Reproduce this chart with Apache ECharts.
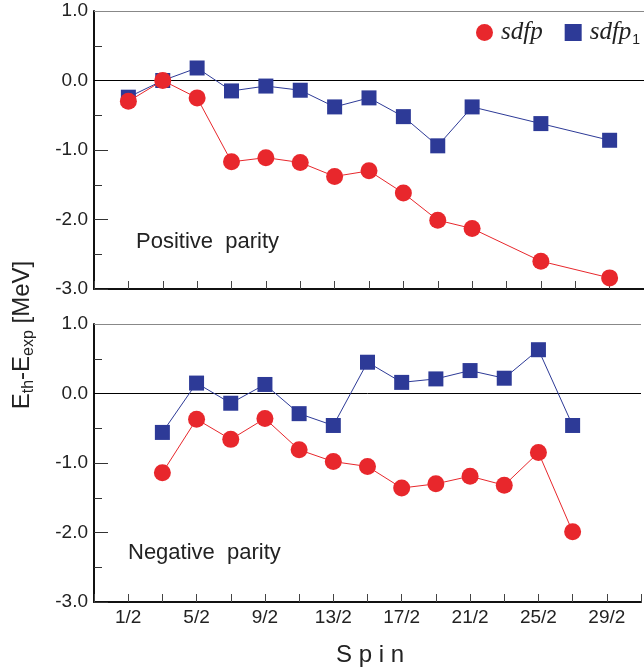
<!DOCTYPE html>
<html>
<head>
<meta charset="utf-8">
<title>Eth - Eexp vs spin</title>
<script src="https://cdn.jsdelivr.net/npm/echarts@6/dist/echarts.min.js"></script>
<style>
    html, body { margin: 0; padding: 0; background: #fff; }
    #chart { width: 644px; height: 670px; }
</style>
</head>
<body>
<div id="chart"></div>
<script>
// spin given as 2J (1 -> 1/2, 3 -> 3/2 ...)
let spins = [1, 3, 5, 7, 9, 11, 13, 15, 17, 19, 21, 23, 25, 27, 29]

// positive parity
let posSdfp = [-0.30, 0.00, -0.25, -1.17, -1.11, -1.18, -1.38, -1.30, -1.62, -2.01, -2.13, null, -2.60, null, -2.84]
let posSdfp1 = [-0.24, 0.00, 0.18, -0.15, -0.08, -0.14, -0.38, -0.25, -0.52, -0.94, -0.38, null, -0.62, null, -0.86]

// negative parity
let negSdfp = [null, -1.14, -0.37, -0.66, -0.36, -0.81, -0.98, -1.05, -1.36, -1.30, -1.19, -1.32, -0.85, -1.99, null]
let negSdfp1 = [null, -0.56, 0.15, -0.14, 0.13, -0.29, -0.46, 0.45, 0.16, 0.21, 0.33, 0.22, 0.63, -0.46, null]

let yTicks = [-3, -2, -1, 0, 1]

const RED = '#e8272c'
const BLUE = '#2d3a97'
const FONT = 'Liberation Sans'

function toPoints(values) {
    let points = []
    values.forEach((v, i) => {
        if (v !== null) {
            points.push([spins[i], v])
        }
    })
    return points
}

function spinLabel(v) {
    if (v >= 1 && v <= 29 && (v - 1) % 4 === 0) {
        return v + '/2'
    }
    return ''
}

function makeXAxis(index, showLabel) {
    return {
        type: 'value',
        gridIndex: index,
        min: -1,
        max: 31,
        interval: 2,
        axisLine: { onZero: false, lineStyle: { color: '#111', width: 2 } },
        axisTick: { inside: true, length: 8, lineStyle: { color: '#444', width: 1 } },
        axisLabel: {
            show: showLabel,
            formatter: spinLabel,
            fontFamily: FONT,
            fontSize: 19,
            color: '#222',
            margin: 6
        },
        splitLine: { show: false }
    }
}

function makeYAxis(index) {
    return {
        type: 'value',
        gridIndex: index,
        min: yTicks[0],
        max: yTicks[yTicks.length - 1],
        interval: 1,
        axisLine: { onZero: false, lineStyle: { color: '#111', width: 2 } },
        axisTick: { inside: true, length: 14, lineStyle: { color: '#333', width: 1 } },
        minorTick: { show: true, splitNumber: 2, length: 8, lineStyle: { color: '#333', width: 1 } },
        axisLabel: {
            formatter: v => v.toFixed(1),
            fontFamily: FONT,
            fontSize: 19,
            color: '#222',
            margin: 6
        },
        splitLine: { show: false },
        minorSplitLine: { show: false }
    }
}

// 零线 + 上边框
function frameLines() {
    return {
        silent: true,
        symbol: ['none', 'none'],
        label: { show: false },
        data: [
            { yAxis: 0, lineStyle: { color: '#000', width: 1, type: 'solid' } },
            { yAxis: yTicks[yTicks.length - 1], lineStyle: { color: '#888', width: 1.2, type: 'solid' } }
        ],
        z: 1
    }
}

function makeSeries(name, values, index, symbol, size, color, withFrame) {
    let s = {
        name: name,
        type: 'line',
        xAxisIndex: index,
        yAxisIndex: index,
        data: toPoints(values),
        symbol: symbol,
        symbolSize: size,
        showAllSymbol: true,
        lineStyle: { color: color, width: 1 },
        itemStyle: { color: color, opacity: 1 },
        z: symbol === 'circle' ? 4 : 3
    }
    if (withFrame) {
        s.markLine = frameLines()
    }
    return s
}

let option = {
    animation: false,
    backgroundColor: '#fff',
    grid: [
        { left: 94, top: 11, width: 556, height: 278 },
        { left: 94, top: 324, width: 556, height: 278 }
    ],
    xAxis: [makeXAxis(0, false), makeXAxis(1, true)],
    yAxis: [makeYAxis(0), makeYAxis(1)],
    legend: {
        orient: 'horizontal',
        left: 471,
        top: 15,
        width: 300,
        itemWidth: 17,
        itemHeight: 17,
        itemGap: 22,
        data: [
            { name: 'sdfp', icon: 'circle' },
            { name: 'sdfp1', icon: 'rect' }
        ],
        formatter: name => name === 'sdfp1' ? '{i|sdfp}{s|1}' : '{i|sdfp}',
        textStyle: {
            rich: {
                i: { fontFamily: 'Liberation Serif', fontStyle: 'italic', fontSize: 25, color: '#222', padding: [0, 0, 0, 3] },
                s: { fontFamily: FONT, fontSize: 14, color: '#222', padding: [16, 0, 0, 1] }
            }
        }
    },
    graphic: [
        {
            type: 'text',
            x: 136,
            y: 242,
            style: { text: 'Positive  parity', fontFamily: FONT, fontSize: 22, fill: '#222', verticalAlign: 'middle' }
        },
        {
            type: 'text',
            x: 128,
            y: 553,
            style: { text: 'Negative  parity', fontFamily: FONT, fontSize: 22, fill: '#222', verticalAlign: 'middle' }
        },
        {
            type: 'text',
            x: 370,
            y: 655,
            style: { text: 'S p i n', fontFamily: FONT, fontSize: 24, fill: '#222', align: 'center', verticalAlign: 'middle' }
        },
        {
            type: 'text',
            x: 22,
            y: 335,
            rotation: Math.PI / 2,
            style: {
                text: '{a|E}{b|th}{a|-E}{b|exp}{a| [MeV]}',
                align: 'center',
                verticalAlign: 'middle',
                rich: {
                    a: { fontFamily: FONT, fontSize: 24, fill: '#222' },
                    b: { fontFamily: FONT, fontSize: 16, fill: '#222', padding: [14, 0, 0, 0] }
                }
            }
        }
    ],
    series: [
        makeSeries('sdfp', posSdfp, 0, 'circle', 17, RED, true),
        makeSeries('sdfp1', posSdfp1, 0, 'rect', 15, BLUE, false),
        makeSeries('sdfp', negSdfp, 1, 'circle', 17, RED, true),
        makeSeries('sdfp1', negSdfp1, 1, 'rect', 15, BLUE, false)
    ]
}

let myChart = echarts.init(document.getElementById('chart'))
myChart.setOption(option)
</script>
</body>
</html>
